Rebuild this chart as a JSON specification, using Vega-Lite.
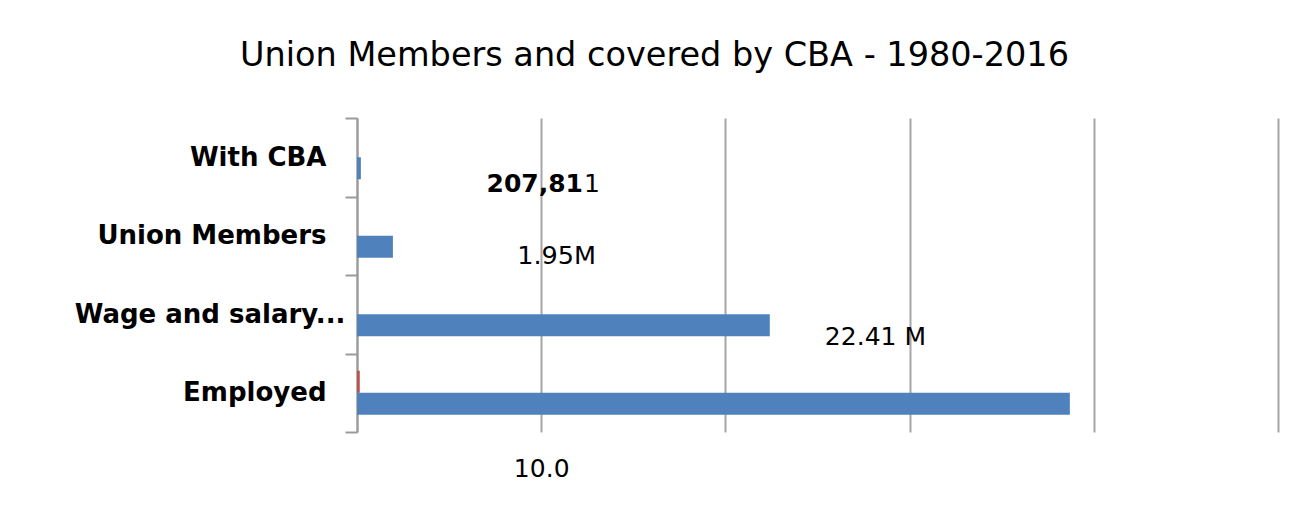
{
  "$schema": "https://vega.github.io/schema/vega-lite/v6.json",
  "width": 921,
  "height": 314,
  "autosize": {"type": "none"},
  "padding": {"left": 357, "top": 118, "right": 21, "bottom": 89},
  "background": "white",
  "config": {"view": {"stroke": null}, "font": "DejaVu Sans"},
  "title": {
    "text": "Union Members and covered by CBA - 1980-2016",
    "fontSize": 33.5,
    "fontWeight": "normal",
    "font": "DejaVu Sans",
    "color": "#000000",
    "anchor": "middle",
    "frame": "group",
    "dx": -163,
    "offset": 32
  },
  "datasets": {
    "bars": [
      {"category": "With CBA", "series": "A", "value": 0},
      {"category": "With CBA", "series": "B", "value": 0.21},
      {"category": "Union Members", "series": "A", "value": 0},
      {"category": "Union Members", "series": "B", "value": 1.95},
      {"category": "Wage and salary...", "series": "A", "value": 0},
      {"category": "Wage and salary...", "series": "B", "value": 22.41},
      {"category": "Employed", "series": "A", "value": 0.15},
      {"category": "Employed", "series": "B", "value": 38.7}
    ],
    "notes": [
      {"category": "With CBA", "text": "207,81", "at": 12.27, "kind": "bold"},
      {"category": "With CBA", "text": "1", "at": 12.32, "kind": "tail"},
      {"category": "Union Members", "text": "1.95M", "at": 8.7, "kind": "um"},
      {"category": "Wage and salary...", "text": "22.41  M", "at": 25.4, "kind": "wage"}
    ]
  },
  "layer": [
    {
      "data": {"name": "bars"},
      "mark": {"type": "bar"},
      "encoding": {
        "y": {
          "field": "category",
          "type": "nominal",
          "sort": ["With CBA", "Union Members", "Wage and salary...", "Employed"],
          "scale": {"paddingInner": 0, "paddingOuter": 0},
          "axis": {
            "title": null,
            "tickBand": "extent",
            "domainColor": "#9a9a9a",
            "domainWidth": 2,
            "tickColor": "#9a9a9a",
            "tickWidth": 2,
            "tickSize": 12,
            "labelFont": "DejaVu Sans",
            "labelFontSize": 26,
            "labelFontWeight": "bold",
            "labelColor": "#000000",
            "labelPadding": {"condition": {"test": "datum.label == 'Wage and salary...'", "value": 0}, "value": 19},
            "labelLimit": 0
          }
        },
        "yOffset": {
          "field": "series",
          "type": "nominal",
          "sort": ["A", "B"],
          "scale": {"paddingInner": 0, "paddingOuter": 0.784}
        },
        "x": {
          "field": "value",
          "type": "quantitative",
          "scale": {"domain": [0, 50], "nice": false},
          "axis": {
            "title": null,
            "values": [0, 10, 20, 30, 40, 50],
            "grid": true,
            "gridColor": "#a6a6a6",
            "gridWidth": 2,
            "domain": false,
            "ticks": false,
            "labelExpr": "datum.value == 10 ? '10.0' : ''",
            "labelFont": "DejaVu Sans",
            "labelFontSize": 25,
            "labelColor": "#000000",
            "labelPadding": 24
          }
        },
        "color": {
          "field": "series",
          "type": "nominal",
          "scale": {"domain": ["A", "B"], "range": ["#C0504D", "#4F81BD"]},
          "legend": null
        }
      }
    },
    {
      "data": {"name": "notes"},
      "transform": [{"filter": "datum.kind == 'bold'"}],
      "mark": {"type": "text", "align": "right", "baseline": "middle", "fontWeight": "bold", "fontSize": 25, "dy": 27, "color": "#000000", "font": "DejaVu Sans"},
      "encoding": {
        "y": {"field": "category", "type": "nominal", "sort": ["With CBA", "Union Members", "Wage and salary...", "Employed"]},
        "x": {"field": "at", "type": "quantitative"},
        "text": {"field": "text"}
      }
    },
    {
      "data": {"name": "notes"},
      "transform": [{"filter": "datum.kind == 'tail'"}],
      "mark": {"type": "text", "align": "left", "baseline": "middle", "fontSize": 25, "dy": 27, "color": "#000000", "font": "DejaVu Sans"},
      "encoding": {
        "y": {"field": "category", "type": "nominal", "sort": ["With CBA", "Union Members", "Wage and salary...", "Employed"]},
        "x": {"field": "at", "type": "quantitative"},
        "text": {"field": "text"}
      }
    },
    {
      "data": {"name": "notes"},
      "transform": [{"filter": "datum.kind == 'um'"}],
      "mark": {"type": "text", "align": "left", "baseline": "middle", "fontSize": 25.5, "dy": 20, "color": "#000000", "font": "DejaVu Sans"},
      "encoding": {
        "y": {"field": "category", "type": "nominal", "sort": ["With CBA", "Union Members", "Wage and salary...", "Employed"]},
        "x": {"field": "at", "type": "quantitative"},
        "text": {"field": "text"}
      }
    },
    {
      "data": {"name": "notes"},
      "transform": [{"filter": "datum.kind == 'wage'"}],
      "mark": {"type": "text", "align": "left", "baseline": "middle", "fontSize": 25, "dy": 23, "color": "#000000", "font": "DejaVu Sans"},
      "encoding": {
        "y": {"field": "category", "type": "nominal", "sort": ["With CBA", "Union Members", "Wage and salary...", "Employed"]},
        "x": {"field": "at", "type": "quantitative"},
        "text": {"field": "text"}
      }
    }
  ]
}
